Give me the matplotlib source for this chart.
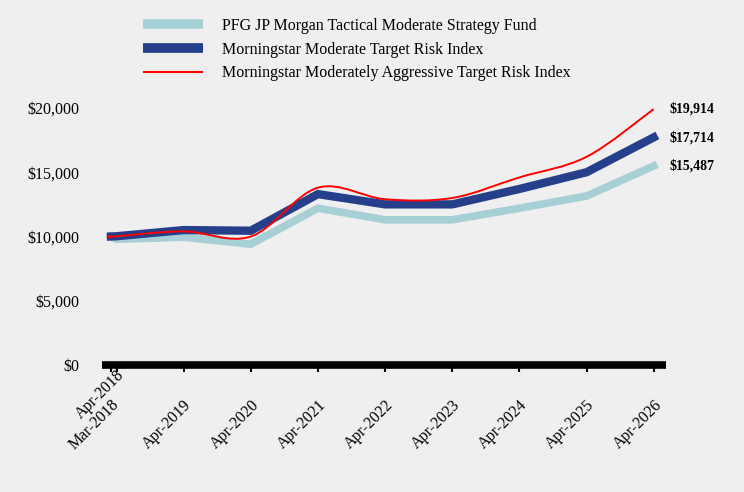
import matplotlib
matplotlib.use('Agg')
import matplotlib.pyplot as plt
import matplotlib.transforms as mtransforms
from matplotlib.path import Path
from matplotlib.patches import PathPatch
from matplotlib.lines import Line2D

# ==========================================
# 数据 (months since Mar-2018)
# ==========================================
months = [0, 1, 13, 25, 37, 49, 61, 73, 85, 97]
tick_labels = ['Mar-2018', 'Apr-2018', 'Apr-2019', 'Apr-2020', 'Apr-2021', 'Apr-2022',
               'Apr-2023', 'Apr-2024', 'Apr-2025', 'Apr-2026']

fund_name = 'PFG JP Morgan Tactical Moderate Strategy Fund'
moderate_name = 'Morningstar Moderate Target Risk Index'
aggressive_name = 'Morningstar Moderately Aggressive Target Risk Index'

fund = [10000, 9780, 9950, 9400, 12200, 11300, 11300, 12200, 13150, 15487]
moderate = [10000, 10020, 10500, 10450, 13300, 12500, 12500, 13700, 15000, 17714]
aggressive = [10000, 10020, 10400, 10000, 13800, 12900, 13000, 14600, 16200, 19914]

y_ticks = [0, 5000, 10000, 15000, 20000]

# ==========================================
# 样式
# ==========================================
bg = '#efefef'
c_fund = '#a7cfd6'
c_mod = '#263f8a'
c_agg = '#ff0000'

plt.rcParams['font.family'] = ['Liberation Serif', 'DejaVu Serif']

fig = plt.figure(figsize=(7.44, 4.92), dpi=100, facecolor=bg)
ax = fig.add_axes([102 / 744, 1 - 365 / 492, (666 - 102) / 744, (365 - 108) / 492])
ax.set_facecolor(bg)


def smooth_path(xs, ys, tension=1 / 6):
    # Catmull-Rom style bezier control points (Excel "smoothed line")
    verts = [(xs[0], ys[0])]
    codes = [Path.MOVETO]
    n = len(xs)
    for i in range(n - 1):
        x0, y0 = (xs[i - 1], ys[i - 1]) if i > 0 else (xs[i], ys[i])
        x1, y1 = xs[i], ys[i]
        x2, y2 = xs[i + 1], ys[i + 1]
        x3, y3 = (xs[i + 2], ys[i + 2]) if i + 2 < n else (x2, y2)
        c1 = (x1 + (x2 - x0) * tension, y1 + (y2 - y0) * tension)
        c2 = (x2 - (x3 - x1) * tension, y2 - (y3 - y1) * tension)
        verts += [c1, c2, (x2, y2)]
        codes += [Path.CURVE4] * 3
    return Path(verts, codes)


ax.plot(months, fund, color=c_fund, linewidth=5.5, solid_joinstyle='miter', zorder=3)
ax.plot(months, moderate, color=c_mod, linewidth=6, solid_joinstyle='miter', zorder=4)
ax.add_patch(PathPatch(smooth_path(months, aggressive), facecolor='none', edgecolor=c_agg,
                       linewidth=1.4, zorder=5, clip_on=False))

# end labels
for val in [fund[-1], moderate[-1], aggressive[-1]]:
    ax.text(months[-1] + 2.75, val, f'${val:,.0f}', fontsize=10, fontweight='bold',
            va='center', ha='left')

ax.set_xlim(-1.6, 99.2)
ax.set_ylim(0, 20000)
ax.set_yticks(y_ticks)
ax.set_yticklabels([f'${v:,.0f}' for v in y_ticks])
ax.set_xticks(months)
ax.set_xticklabels(tick_labels, rotation=45, ha='right', va='top', rotation_mode='anchor')

for s in ['top', 'right', 'left']:
    ax.spines[s].set_visible(False)
ax.spines['bottom'].set_linewidth(5.5)
ax.spines['bottom'].set_capstyle('butt')
ax.tick_params(axis='y', length=0, pad=16, labelsize=11.5)
ax.tick_params(axis='x', length=5, width=1.5, pad=18, labelsize=11.5)

# Apr-2018 label sits higher (staggered)
lbl = ax.get_xticklabels()[1]
lbl.set_transform(lbl.get_transform() + mtransforms.ScaledTranslation(0, 30 / 100, fig.dpi_scale_trans))

handles = [Line2D([], [], color=c_fund, linewidth=7, solid_capstyle='butt'),
           Line2D([], [], color=c_mod, linewidth=7, solid_capstyle='butt'),
           Line2D([], [], color=c_agg, linewidth=1.5, solid_capstyle='butt')]
fig.legend(handles, [fund_name, moderate_name, aggressive_name], loc='upper left',
           bbox_to_anchor=(143 / 744, 1 - 18 / 492), frameon=False, fontsize=11.5,
           handlelength=3.75, handletextpad=1.2, labelspacing=0.48, borderpad=0,
           borderaxespad=0)

fig.savefig('out.png', dpi=100, facecolor=bg)
